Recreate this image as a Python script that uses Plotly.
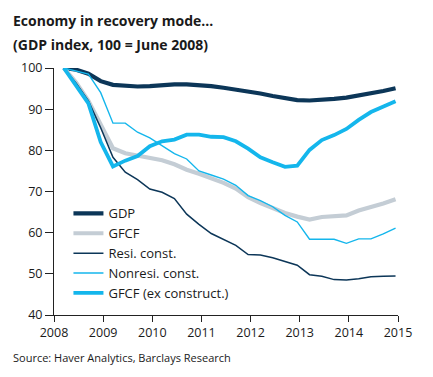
import plotly.graph_objects as go

# Quarterly observations (decimal years on the chart's x scale)
quarters = [2008.2, 2008.45, 2008.7, 2008.95, 2009.2, 2009.45, 2009.7, 2009.95,
            2010.2, 2010.45, 2010.7, 2010.95, 2011.2, 2011.45, 2011.7, 2011.95,
            2012.2, 2012.45, 2012.7, 2012.95, 2013.2, 2013.45, 2013.7, 2013.95,
            2014.2, 2014.45, 2014.7, 2014.95]

gdp = [100, 99.6, 98.6, 96.8, 95.9, 95.6, 95.5, 95.6, 95.9, 96.0, 96.0, 95.9,
       95.6, 95.2, 94.8, 94.4, 93.8, 93.2, 92.6, 92.2, 92.1, 92.2, 92.5, 92.8,
       93.3, 93.8, 94.4, 95.1]

gfcf = [100, 96.5, 92.0, 86.0, 80.5, 79.3, 78.7, 78.3, 77.6, 76.6, 75.3, 74.3,
        73.2, 72.1, 70.7, 68.6, 67.2, 66.0, 64.8, 63.9, 63.2, 63.8, 64.0, 64.2,
        65.4, 66.2, 67.1, 68.1]

resi = [100, 96.3, 92.0, 85.5, 78.3, 74.7, 72.9, 70.6, 69.8, 68.3, 64.5, 62.0,
        59.8, 58.3, 56.9, 54.7, 54.6, 53.9, 53.0, 52.1, 49.8, 49.4, 48.6, 48.5,
        48.8, 49.3, 49.4, 49.5]

nonresi = [100, 99.3, 98.5, 94.0, 86.6, 86.6, 84.4, 83.0, 81.2, 79.2, 77.9, 75.0,
           74.0, 73.0, 71.5, 69.0, 67.8, 66.3, 64.2, 62.6, 58.4, 58.4, 58.4, 57.4,
           58.5, 58.5, 59.7, 61.1]

gfcf_ex = [100, 95.7, 91.4, 82.0, 76.1, 77.5, 78.6, 81.0, 82.2, 82.6, 83.8, 83.8,
           83.3, 83.2, 82.2, 80.4, 78.3, 77.1, 76.0, 76.3, 80.1, 82.5, 83.7, 85.2,
           87.4, 89.3, 90.5, 91.9]

x_ticks = [2008, 2009, 2010, 2011, 2012, 2013, 2014, 2015]
y_ticks = [40, 50, 60, 70, 80, 90, 100]

NAVY = "#0c3658"
GREY = "#c4cdd5"
CYAN = "#14b6ec"

fig = go.Figure()
fig.add_trace(go.Scatter(x=quarters, y=gdp, mode="lines", name="GDP",
                         line=dict(color=NAVY, width=4.2)))
fig.add_trace(go.Scatter(x=quarters, y=gfcf, mode="lines", name="GFCF",
                         line=dict(color=GREY, width=4.2)))
fig.add_trace(go.Scatter(x=quarters, y=resi, mode="lines", name="Resi. const.",
                         line=dict(color=NAVY, width=1.5)))
fig.add_trace(go.Scatter(x=quarters, y=nonresi, mode="lines", name="Nonresi. const.",
                         line=dict(color=CYAN, width=1.4)))
fig.add_trace(go.Scatter(x=quarters, y=gfcf_ex, mode="lines", name="GFCF (ex construct.)",
                         line=dict(color=CYAN, width=3.8)))

# The page body has an 8px default margin, so the figure is sized to fit the window.
fig.update_layout(
    width=425, height=369,
    margin=dict(l=46, r=35, t=60, b=62),
    paper_bgcolor="white", plot_bgcolor="white",
    font=dict(family="Open Sans, Noto Sans, sans-serif", size=12, color="#1a1a1a"),
    showlegend=True,
    legend=dict(x=0.042, y=0.472, xanchor="left", yanchor="top",
                bgcolor="rgba(0,0,0,0)", font=dict(size=13, color="#1a1a1a"),
                tracegroupgap=0, itemwidth=30),
    annotations=[
        dict(text="<b>Economy in recovery mode…</b>",
             xref="paper", yref="paper", x=-0.125, y=1.194, xanchor="left", yanchor="middle",
             showarrow=False, align="left", font=dict(size=14, color="#1a1a1a")),
        dict(text="<b>(GDP index, 100 = June 2008)</b>",
             xref="paper", yref="paper", x=-0.125, y=1.097, xanchor="left", yanchor="middle",
             showarrow=False, align="left", font=dict(size=14, color="#1a1a1a")),
        dict(text="Source: Haver Analytics, Barclays Research",
             xref="paper", yref="paper", x=-0.125, y=-0.172, xanchor="left", yanchor="middle",
             showarrow=False, align="left", font=dict(size=11, color="#1a1a1a")),
    ],
)
fig.update_xaxes(range=[2008, 2015], tickvals=x_ticks, ticktext=[str(v) for v in x_ticks],
                 showgrid=False, zeroline=False, showline=True, linecolor="#222",
                 linewidth=1, ticks="outside", ticklen=6, tickcolor="#222",
                 tickfont=dict(size=12.5))
fig.update_yaxes(range=[40, 100], tickvals=y_ticks, showgrid=False, zeroline=False,
                 showline=True, linecolor="#222", linewidth=1, ticks="outside",
                 ticklen=8, tickcolor="#222", tickfont=dict(size=12.5))

fig.write_html("out.html")
